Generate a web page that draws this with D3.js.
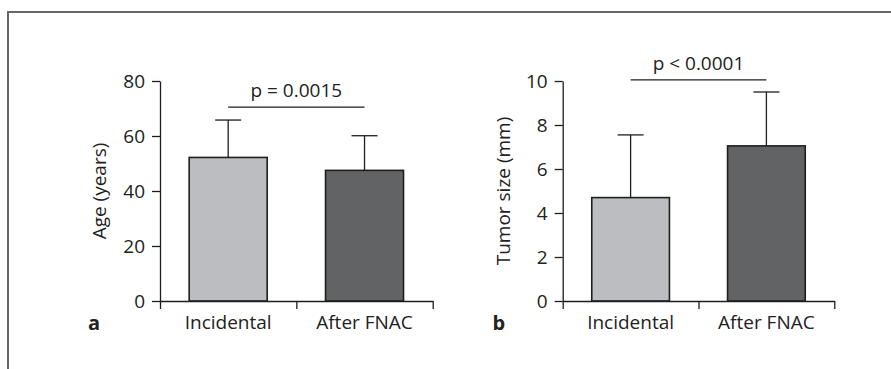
<!DOCTYPE html>
<html>
<head>
<meta charset="utf-8">
<script src="https://cdn.jsdelivr.net/npm/d3@7"></script>
<style>
  html, body { margin: 0; padding: 0; background: #fff; }
  svg text { font-family: "Open Sans", "DejaVu Sans", sans-serif; fill: #222; }
</style>
</head>
<body>
<div id="chart"></div>
<script>
// data
const categories = ['Incidental', 'After FNAC'];
const ageMean = [52.2, 47.5];
const ageSD = [13.6, 12.6];
const sizeMean = [4.7, 7.05];
const sizeSD = [2.85, 2.45];
const ageTicks = [0, 20, 40, 60, 80];
const sizeTicks = [0, 2, 4, 6, 8, 10];
const pLabels = ['p = 0.0015', 'p < 0.0001'];
const sigLevels = [70.5, 10.05];
const yTitles = ['Age (years)', 'Tumor size (mm)'];
const panelLetters = ['a', 'b'];
const barColors = ['#bcbdc0', '#626365'];

const width = 891, height = 369;
const fontSize = 19;

const svg = d3.select('#chart')
  .append('svg')
  .attr('width', width)
  .attr('height', height);

// outer frame: top and left only
svg.append('path')
  .attr('d', `M8,${height} V12 H${width}`)
  .attr('fill', 'none')
  .attr('stroke', '#666')
  .attr('stroke-width', 2);

const panels = [
  {left: 160, right: 432.7, mean: ageMean, sd: ageSD, ticks: ageTicks, max: 80, titleX: 99, letterX: 88},
  {left: 562.7, right: 834.3, mean: sizeMean, sd: sizeSD, ticks: sizeTicks, max: 10, titleX: 503.3, letterX: 492.5}
];

const yTop = 81, yBottom = 301;

panels.forEach((p, i) => {
  const g = svg.append('g');

  const x = d3.scaleBand()
    .domain(categories)
    .range([p.left, p.right])
    .padding(0);
  const y = d3.scaleLinear()
    .domain([0, p.max])
    .range([yBottom, yTop]);

  const barW = x.bandwidth() * 0.572;

  // bars
  g.selectAll('.bar')
    .data(categories)
    .enter()
    .append('rect')
    .attr('class', 'bar')
    .attr('x', d => x(d) + (x.bandwidth() - barW) / 2)
    .attr('width', barW)
    .attr('y', (d, j) => y(p.mean[j]))
    .attr('height', (d, j) => yBottom - y(p.mean[j]))
    .attr('fill', (d, j) => barColors[j])
    .attr('stroke', '#1e1e1e')
    .attr('stroke-width', 1.6);

  // error bars (upper side only)
  const cx = d => x(d) + x.bandwidth() / 2;
  const errs = g.selectAll('.err')
    .data(categories)
    .enter()
    .append('g')
    .attr('class', 'err')
    .attr('stroke', '#1e1e1e')
    .attr('stroke-width', 1.3);
  errs.append('line')
    .attr('x1', d => cx(d)).attr('x2', d => cx(d))
    .attr('y1', (d, j) => y(p.mean[j]))
    .attr('y2', (d, j) => y(p.mean[j] + p.sd[j]));
  errs.append('line')
    .attr('x1', d => cx(d) - 13).attr('x2', d => cx(d) + 13)
    .attr('y1', (d, j) => y(p.mean[j] + p.sd[j]))
    .attr('y2', (d, j) => y(p.mean[j] + p.sd[j]));

  // y axis
  const yAxis = d3.axisLeft(y)
    .tickValues(p.ticks)
    .tickSize(8)
    .tickSizeOuter(0)
    .tickPadding(7);
  const ya = g.append('g')
    .attr('transform', `translate(${p.left},0)`)
    .call(yAxis);
  ya.selectAll('text').attr('font-size', fontSize);

  // x axis: boundary ticks
  const xb = d3.scaleLinear().domain([0, categories.length]).range([p.left, p.right]);
  const xAxis = d3.axisBottom(xb)
    .tickValues(d3.range(categories.length + 1))
    .tickSize(8)
    .tickSizeOuter(0)
    .tickFormat('');
  g.append('g')
    .attr('transform', `translate(0,${yBottom})`)
    .call(xAxis);

  // category labels
  const xl = d3.axisBottom(x).tickSize(0).tickPadding(15);
  const xla = g.append('g')
    .attr('transform', `translate(0,${yBottom})`)
    .call(xl);
  xla.select('.domain').remove();
  xla.selectAll('text').attr('font-size', fontSize);

  g.selectAll('.domain, .tick line')
    .attr('stroke', '#1e1e1e')
    .attr('stroke-width', 1.3);

  // significance bar
  const sy = y(sigLevels[i]);
  g.append('line')
    .attr('x1', cx(categories[0]))
    .attr('x2', cx(categories[1]))
    .attr('y1', sy).attr('y2', sy)
    .attr('stroke', '#1e1e1e')
    .attr('stroke-width', 1.3);
  g.append('text')
    .attr('x', (cx(categories[0]) + cx(categories[1])) / 2)
    .attr('y', sy - 10)
    .attr('text-anchor', 'middle')
    .attr('font-size', fontSize)
    .text(pLabels[i]);

  // y title
  g.append('text')
    .attr('transform', `translate(${p.titleX},${(yTop + yBottom) / 2}) rotate(-90)`)
    .attr('text-anchor', 'middle')
    .attr('dy', '0.35em')
    .attr('font-size', fontSize)
    .text(yTitles[i]);

  // panel letter
  g.append('text')
    .attr('x', p.letterX)
    .attr('y', 330)
    .attr('font-size', 20)
    .attr('font-weight', 'bold')
    .text(panelLetters[i]);
});
</script>
</body>
</html>
